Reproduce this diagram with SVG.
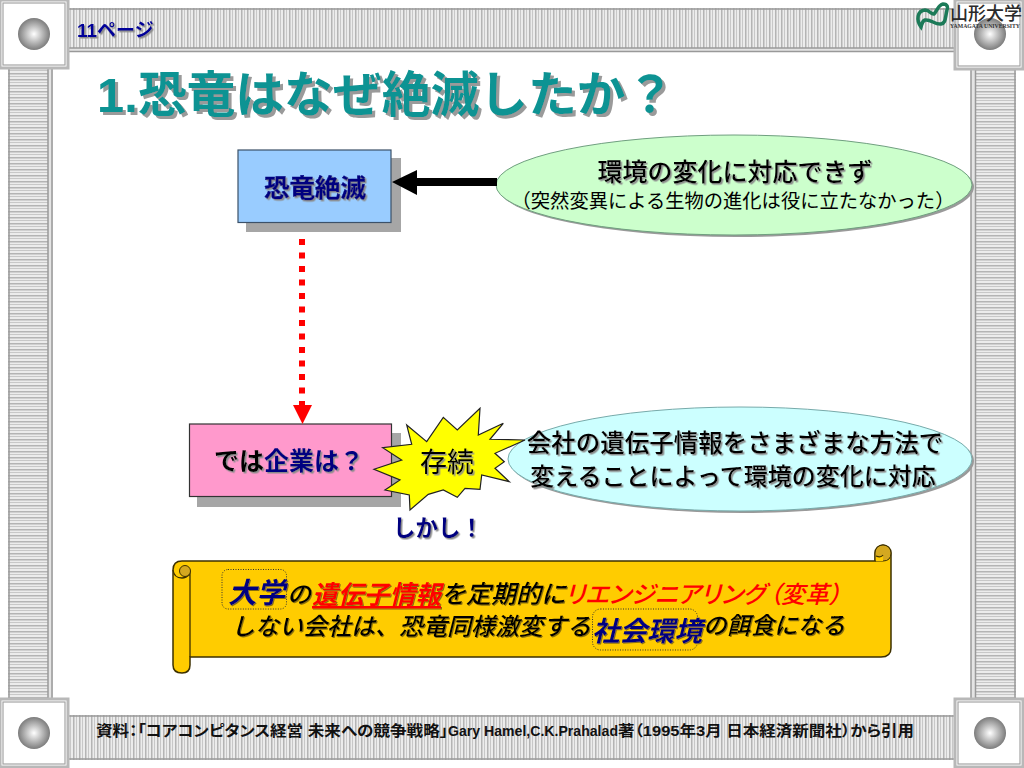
<svg xmlns="http://www.w3.org/2000/svg" width="1024" height="768" viewBox="0 0 1024 768">
<style>
text{font-family:"Liberation Sans","Noto Sans CJK JP",sans-serif}
.b{font-weight:bold}
.m{font-weight:500}
.i{font-style:italic}
.p{font-feature-settings:"palt"}
.sh{filter:url(#ds)}
.sh2{filter:url(#ds2)}
.sh3{filter:url(#ds3)}
.corner{fill:#fff;stroke:#b8b8b8;stroke-width:3}
.in{fill:none;stroke:#a4a4a4;stroke-width:1.2}
.ball{fill:url(#ball)}
.edge{stroke:#999;stroke-width:1.500;fill:none}
.ln{stroke:#3d3000;stroke-width:1.300;fill:none}
.dot{fill:none;stroke:#333;stroke-width:1;stroke-dasharray:1 1.500}
</style>
<defs>
<pattern id="vs" width="6" height="10" patternUnits="userSpaceOnUse"><rect width="6" height="10" fill="#ececec"/><rect x="1" width="1.500" height="10" fill="#b4b4b4"/><rect x="4" width="1" height="10" fill="#c8c8c8"/></pattern>
<pattern id="hs" width="10" height="6" patternUnits="userSpaceOnUse"><rect width="10" height="6" fill="#ececec"/><rect y="1" width="10" height="1.500" fill="#b4b4b4"/><rect y="4" width="10" height="1" fill="#c8c8c8"/></pattern>
<radialGradient id="ball" cx=".5" cy=".5" r=".5"><stop offset="0" stop-color="#fff"/><stop offset="1" stop-color="#7c7c7c"/></radialGradient>
<filter id="ds" x="-10%" y="-20%" width="120%" height="140%"><feDropShadow dx="1.500" dy="1.500" stdDeviation="0.300" flood-color="#8c8c8c"/></filter>
<filter id="ds2" x="-10%" y="-20%" width="120%" height="140%"><feDropShadow dx="3" dy="3" stdDeviation="0.400" flood-color="#9a9a9a"/></filter>
<filter id="ds3" x="-10%" y="-20%" width="120%" height="140%"><feDropShadow dx="1" dy="1" stdDeviation="0.300" flood-color="#8a7010"/></filter>
</defs>

<g id="frame">
<rect x="68" y="8" width="888" height="44" fill="url(#vs)"/>
<rect x="68" y="48" width="888" height="4" fill="#e4e4e4"/>
<path class="edge" d="M68 9H956M68 48H956M68 51.500H956"/>
<rect x="68" y="715" width="888" height="45" fill="url(#vs)"/>
<path class="edge" d="M68 716H956M68 759H956"/>
<rect x="8" y="68" width="45" height="630" fill="url(#hs)"/>
<rect x="48" y="68" width="5" height="630" fill="#e4e4e4"/>
<path class="edge" d="M9 68V698M48 68V698M52 68V698"/>
<rect x="971" y="68" width="45" height="630" fill="url(#hs)"/>
<rect x="971" y="68" width="5" height="630" fill="#e4e4e4"/>
<path class="edge" d="M971 68V698M975.500 68V698M1015 68V698"/>
<g id="corner-tl"><rect class="corner" x="0" y="0" width="68" height="68"/><rect class="in" x="3" y="3" width="62" height="62"/><circle class="ball" cx="34" cy="34" r="16"/></g>
<g id="corner-tr"><rect class="corner" x="955" y="0" width="68" height="69"/><rect class="in" x="958" y="3" width="62" height="63"/><circle class="ball" cx="990" cy="34" r="16"/></g>
<g id="corner-bl"><rect class="corner" x="0" y="699" width="68" height="68"/><rect class="in" x="3" y="702" width="62" height="62"/><circle class="ball" cx="34" cy="733" r="16"/></g>
<g id="corner-br"><rect class="corner" x="955" y="699" width="68" height="68"/><rect class="in" x="958" y="702" width="62" height="62"/><circle class="ball" cx="990" cy="733" r="16"/></g>
</g>

<g id="logo">
<path d="M921 27C916 20 917 11 925 10C930 10 931 15 934 14C937 11 938 5 943 4C948 4 948 8 947 10C945 18 946 23 941 24C935 25 931 19 925 20C922 21 922 24 921 27Z" fill="none" stroke="#1c7a58" stroke-width="3.500"/>
<text class="m" x="950" y="20" font-size="18" fill="#2a2a2a" textLength="72" lengthAdjust="spacingAndGlyphs">山形大学</text>
<text x="950" y="28" style="font-family:'Liberation Serif',serif" font-size="5.500" font-weight="bold" fill="#333" textLength="70" lengthAdjust="spacingAndGlyphs">YAMAGATA UNIVERSITY</text>
</g>

<text class="b sh" x="77" y="37" font-size="19" fill="#000099">11ページ</text>
<text class="b sh2" x="97" y="112" font-size="48.800" fill="#0f9393">1.恐竜はなぜ絶滅したか？</text>

<g id="node-extinction">
<rect x="246" y="158" width="155" height="74" fill="#a6a6a6"/>
<rect x="238" y="150" width="153" height="72.500" fill="#99ccff" stroke="#3b5068" stroke-width="1.200"/>
<text class="b sh" x="315" y="197" text-anchor="middle" font-size="25.500" fill="#000080" stroke="#000080" stroke-width=".4">恐竜絶滅</text>
</g>

<g id="node-environment">
<ellipse cx="736" cy="187" rx="238" ry="50" fill="#9a9a9a"/>
<ellipse cx="734" cy="185" rx="238" ry="50" fill="#ccffcc" stroke="#6f9f7f"/>
<text class="m sh" x="735" y="181" text-anchor="middle" font-size="25" fill="#000">環境の変化に対応できず</text>
<text x="733" y="208" text-anchor="middle" font-size="19.300" fill="#000">（突然変異による生物の進化は役に立たなかった）</text>
</g>

<g id="node-company">
<rect x="197" y="433" width="204" height="74" fill="#a6a6a6"/>
<rect x="189.500" y="424" width="202" height="72.500" fill="#ff99cc" stroke="#333" stroke-width="1.200"/>
<text class="b sh" x="214" y="470" font-size="25" fill="#000">では<tspan fill="#000080">企業は？</tspan></text>
</g>

<g id="node-dna">
<ellipse cx="742" cy="461" rx="232" ry="52" fill="#9a9a9a"/>
<ellipse cx="740" cy="459" rx="232" ry="52" fill="#ccffff" stroke="#7aa"/>
<text class="m sh" x="735" y="452" text-anchor="middle" font-size="24.500" fill="#000">会社の遺伝子情報をさまざまな方法で</text>
<text class="m sh" x="733" y="485" text-anchor="middle" font-size="24" fill="#000">変えることによって環境の変化に対応</text>
</g>

<g id="node-survive">
<path d="M406.700 425L426.700 441.700L443.300 417.300L457.300 430L480 408.300L478.300 435L503.300 423.300L490 439.300L525 440L495 453.300L504.300 461.700L495 468.300L509.300 481.700L481.700 475L480 489.300L465 488.300L457.300 497.300L443.300 490L428.300 494.300L410 510L409.300 495L385 490L400 480L374 469.300L401.700 460L382.700 447.700L411.700 444.300Z" fill="#ffff00" stroke="#222" stroke-width="1.200"/>
<text class="sh" x="447" y="472" text-anchor="middle" font-size="27" fill="#000">存続</text>
</g>

<g id="connectors">
<path d="M302 239V405" stroke="#f00" stroke-width="6" stroke-dasharray="6 7.500" fill="none"/>
<path d="M293 405H312L302.500 424Z" fill="#f00"/>
<path d="M497 182H416" stroke="#000" stroke-width="8" fill="none"/>
<path d="M392 182L417 170V195Z" fill="#000"/>
</g>

<text class="b sh" x="438" y="536" text-anchor="middle" font-size="22.500" fill="#000080">しかし！</text>

<g id="scroll">
<path d="M182 561H875V553A8 8 0 0 1 891 553V648Q891 657 881 657H190V665Q190 673 182 673Q173 673 173 665V570Q173 561 182 561Z" fill="#ffcc00" stroke="#3d3000" stroke-width="1.500"/>
<path class="ln" d="M190 571V657M173 570Q174 578 182 578Q186 578 190 574"/>
<circle cx="185" cy="571" r="5.500" fill="#d4a820" stroke="#3d3000" stroke-width="1"/>
<path d="M875 561V553A8 8 0 0 1 891 553Q891 561 883 561Z" fill="#d4a820" stroke="#3d3000" stroke-width="1"/>
<path d="M876 561V556H883V561Z" fill="#ffcc00"/>
<path class="ln" d="M876 556Q881 558 883 555"/>
<rect class="dot" x="222" y="569.500" width="64.500" height="39.500" rx="6"/>
<rect class="dot" x="592.500" y="609" width="105" height="41" rx="8"/>
<text class="b i sh3" x="228" y="603" font-size="28.500" fill="#000080">大学</text>
<text class="m i sh3" x="287" y="603" font-size="24" fill="#000">の</text>
<text class="b i sh3" x="312" y="604" font-size="25.800" fill="#f00" text-decoration="underline">遺伝子情報</text>
<text class="m i sh3" x="441" y="603" font-size="25" fill="#000">を定期的に</text>
<text class="m i p" x="565" y="603" font-size="24" fill="#f00" textLength="200" lengthAdjust="spacingAndGlyphs">リエンジニアリング</text>
<text class="m i p" x="769" y="603" font-size="24" fill="#f00">（変革）</text>
<text class="m i sh3" x="231" y="635" font-size="24" fill="#000">しない会社は、恐竜同様激変する</text>
<text class="b i sh3" x="592" y="641" font-size="27.500" fill="#000080">社会環境</text>
<text class="m i sh3" x="703" y="634" font-size="23.700" fill="#000">の餌食になる</text>
</g>

<g id="source">
<text class="b p" x="96" y="736" font-size="15" fill="#111" textLength="352" lengthAdjust="spacingAndGlyphs">資料：「コアコンピタンス経営 未来への競争戦略」</text>
<text class="b" x="448" y="736" font-size="15" fill="#111" textLength="170" lengthAdjust="spacingAndGlyphs">Gary Hamel,C.K.Prahalad</text>
<text class="b p" x="618" y="736" font-size="15" fill="#111" textLength="296" lengthAdjust="spacingAndGlyphs">著（1995年3月 日本経済新聞社）から引用</text>
</g>
</svg>
